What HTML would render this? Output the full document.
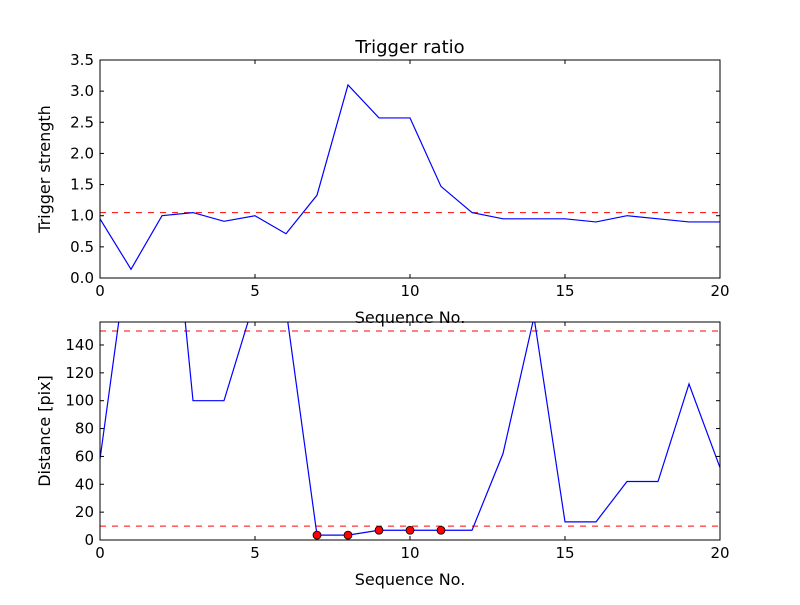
<!DOCTYPE html>
<html><head><meta charset="utf-8"><style>
html,body{margin:0;padding:0;background:#fff;}
svg text{font-family:"DejaVu Sans","Liberation Sans",sans-serif;fill:#000;}
</style></head><body>
<svg id="chart" width="800" height="600" xmlns="http://www.w3.org/2000/svg">
<defs>
<clipPath id="c1"><rect x="100" y="60" width="620" height="218"/></clipPath>
<clipPath id="c2"><rect x="100" y="322" width="620" height="218"/></clipPath>
</defs>
<rect width="800" height="600" fill="#fff"/>
<g id="g1"></g>
<g id="g2"></g>
</svg>
<script>
const seq = [0,1,2,3,4,5,6,7,8,9,10,11,12,13,14,15,16,17,18,19,20];
const strength = [0.95,0.14,1.0,1.05,0.91,1.0,0.71,1.33,3.1,2.57,2.57,1.47,1.05,0.95,0.95,0.95,0.9,1.0,0.95,0.9,0.9];
const strengthThreshold = 1.05;
const distance = [58,221,326,100,100,173,166,3.5,3.5,7,7,7,7,62,160,13,13,42,42,112,52];
const markedSeq = [7,8,9,10,11];
const markedDist = [3.5,3.5,7,7,7];
const distThresholds = [150,10];
const xTicks = [0,5,10,15,20];
const yTicks1 = [0,0.5,1.0,1.5,2.0,2.5,3.0,3.5];
const yTicks2 = [0,20,40,60,80,100,120,140];

const NS="http://www.w3.org/2000/svg";
function mk(p,tag,attrs){const e=document.createElementNS(NS,tag);for(const k in attrs)e.setAttribute(k,attrs[k]);p.appendChild(e);return e;}
const L=100,R=720;
const xs=v=>L+(v-0)/20*(R-L);

function panel(g,top,bot,ymax,yt,fmt,ys,clip,ylabel,title){
  const y=v=>bot-v/ymax*(bot-top);
  return y;
}
function axes(g,top,bot,y,yt,fmt,ylabel,name){
  const fr=mk(g,'rect',{x:L,y:top,width:R-L,height:bot-top,fill:'none',stroke:'#000','stroke-width':1});
  
  
  xTicks.forEach(t=>{
    const X=xs(t);
    mk(g,'line',{x1:X,x2:X,y1:bot,y2:bot-4,stroke:'#000'});
    mk(g,'line',{x1:X,x2:X,y1:top,y2:top+4,stroke:'#000'});
    const tx=mk(g,'text',{x:X,y:bot+18,'text-anchor':'middle','font-size':15});
    tx.textContent=t;
    
    
  });
  yt.forEach(t=>{
    const Y=y(t);
    mk(g,'line',{x1:L,x2:L+4,y1:Y,y2:Y,stroke:'#000'});
    mk(g,'line',{x1:R,x2:R-4,y1:Y,y2:Y,stroke:'#000'});
    const tx=mk(g,'text',{x:L-6,y:Y+5,'text-anchor':'end','font-size':15});
    tx.textContent=fmt(t);
    
    
  });
  const xl=mk(g,'text',{x:(L+R)/2,y:bot+45,'text-anchor':'middle','font-size':16});
  xl.textContent='Sequence No.';
  
  
  const yl=mk(g,'text',{x:0,y:0,'text-anchor':'middle','font-size':16,transform:`translate(${L-50},${(top+bot)/2}) rotate(-90)`});
  yl.textContent=ylabel;
  
  
}

// top
const g1=document.getElementById('g1');
const y1=v=>278-v/3.5*218;
const c1=mk(g1,'g',{'clip-path':'url(#c1)'});
const h1=mk(c1,'line',{x1:L,x2:R,y1:y1(strengthThreshold),y2:y1(strengthThreshold),stroke:'red','stroke-dasharray':'6,6'});


const p1=mk(c1,'polyline',{points:seq.map((s,i)=>xs(s)+','+y1(strength[i])).join(' '),fill:'none',stroke:'blue','stroke-width':1.2});


axes(g1,60,278,y1,yTicks1,t=>t.toFixed(1),'Trigger strength','top-axes');
const ti=mk(g1,'text',{x:410,y:53,'text-anchor':'middle','font-size':18});
ti.textContent='Trigger ratio';



// bottom
const g2=document.getElementById('g2');
const y2=v=>540-v/156.5*218;
const c2=mk(g2,'g',{'clip-path':'url(#c2)'});
distThresholds.forEach(d=>{
  const h=mk(c2,'line',{x1:L,x2:R,y1:y2(d),y2:y2(d),stroke:'red','stroke-dasharray':'6,6'});
  
  
});
const p2=mk(c2,'polyline',{points:seq.map((s,i)=>xs(s)+','+y2(distance[i])).join(' '),fill:'none',stroke:'blue','stroke-width':1.2});


markedSeq.forEach((s,i)=>{
  const c=mk(g2,'circle',{cx:xs(s),cy:y2(markedDist[i]),r:4,fill:'red',stroke:'#000','stroke-width':0.8});
  
  
});
axes(g2,322,540,y2,yTicks2,t=>String(t),'Distance [pix]','bottom-axes');
</script>
</body></html>
